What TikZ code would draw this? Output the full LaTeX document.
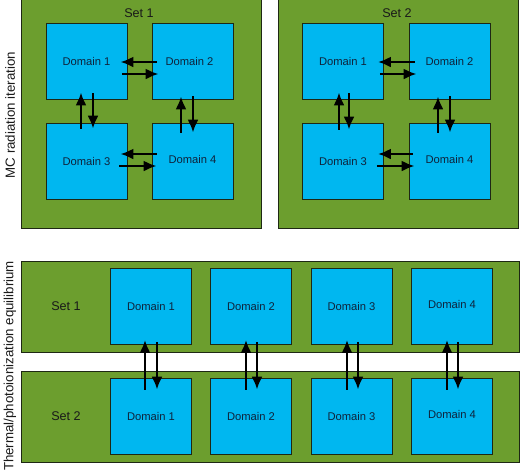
\documentclass[tikz,border=0pt]{standalone}
\usepackage{fontspec}
\setmainfont{Liberation Sans}
\usetikzlibrary{arrows.meta}
\definecolor{setgreen}{RGB}{108,158,46}
\definecolor{domblue}{RGB}{0,183,240}
\definecolor{edgedark}{RGB}{30,40,20}
\definecolor{domtext}{RGB}{15,35,60}
\begin{document}
\begin{tikzpicture}[x=1pt,y=-1pt,
  setbox/.style={draw=edgedark,line width=0.9pt,fill=setgreen},
  dom/.style={draw=edgedark,line width=0.9pt,fill=domblue,minimum width=81pt,minimum height=76pt,inner sep=0pt,text=domtext,font=\fontsize{11.2}{13}\selectfont},
  setlabel/.style={font=\fontsize{12.6}{14}\selectfont,text=black!90,inner sep=0pt},
  sidelabel/.style={font=\fontsize{13.3}{15}\selectfont,text=black!90,rotate=90,inner sep=0pt},
  arr/.style={line width=2.3pt,-{Latex[length=13pt,width=11pt]}}]
\useasboundingbox (0,0) rectangle (520,472);
% set boxes
\path[setbox] (21,-2) rectangle (261,228);
\path[setbox] (278,-2) rectangle (518,228);
\path[setbox] (21,261) rectangle (519,352);
\path[setbox] (21,371) rectangle (519,462);
% labels
\node[setlabel] (s1t) at (139,13) {Set 1};
\node[setlabel] (s2t) at (397,13) {Set 2};
\node[setlabel] (s1b) at (66,306) {Set 1};
\node[setlabel] (s2b) at (66,416) {Set 2};
\node[sidelabel] (mc) at (10,115) {MC radiation iteration};
\node[sidelabel] (th) at (10,366) {Thermal/photoionization equilibrium};
% top set 1
\node[dom] (a1) at (86.5,61) {Domain 1};
\node[dom] (a2) at (192.5,61) {\hspace*{-6pt}Domain 2};
\node[dom] (a3) at (86.5,161) {Domain 3};
\node[dom] (a4) at (192.5,161) {\raisebox{4pt}{Domain 4}};
% top set 2
\node[dom] (b1) at (343,61) {Domain 1};
\node[dom] (b2) at (449.5,61) {Domain 2};
\node[dom] (b3) at (343,161) {Domain 3};
\node[dom] (b4) at (449.5,161) {\raisebox{4pt}{Domain 4}};
% bottom rows
\node[dom] (c1) at (151,306.5) {Domain 1};
\node[dom] (c2) at (251,306.5) {Domain 2};
\node[dom] (c3) at (351.5,306.5) {Domain 3};
\node[dom] (c4) at (452,306.5) {\raisebox{4pt}{Domain 4}};
\node[dom] (d1) at (151,416) {Domain 1};
\node[dom] (d2) at (251,416) {Domain 2};
\node[dom] (d3) at (351.5,416) {Domain 3};
\node[dom] (d4) at (452,416) {\raisebox{3pt}{Domain 4}};
% arrows set 1
\draw[arr] ([xshift=5pt,yshift=-1pt]a2.west) -- ([xshift=-7pt,yshift=-1pt]a1.east);
\draw[arr] ([xshift=-5pt,yshift=-13pt]a1.east) -- ([xshift=7pt,yshift=-13pt]a2.west);
\draw[arr] ([xshift=5pt,yshift=7pt]a4.west) -- ([xshift=-7pt,yshift=7pt]a3.east);
\draw[arr] ([xshift=-8pt,yshift=-5pt]a3.east) -- ([xshift=5pt,yshift=-5pt]a4.west);
\draw[arr] ([xshift=-5.5pt,yshift=-6pt]a3.north) -- ([xshift=-5.5pt,yshift=7pt]a1.south);
\draw[arr] ([xshift=6.5pt,yshift=6pt]a1.south) -- ([xshift=6.5pt,yshift=-6pt]a3.north);
\draw[arr] ([xshift=-11.5pt,yshift=-10pt]a4.north) -- ([xshift=-11.5pt,yshift=3pt]a2.south);
\draw[arr] ([xshift=0.5pt,yshift=3pt]a2.south) -- ([xshift=0.5pt,yshift=-10pt]a4.north);
% arrows set 2
\draw[arr] ([xshift=6pt,yshift=-1pt]b2.west) -- ([xshift=-6pt,yshift=-1pt]b1.east);
\draw[arr] ([xshift=-4pt,yshift=-13pt]b1.east) -- ([xshift=8pt,yshift=-13pt]b2.west);
\draw[arr] ([xshift=4pt,yshift=7pt]b4.west) -- ([xshift=-6pt,yshift=7pt]b3.east);
\draw[arr] ([xshift=-7pt,yshift=-5pt]b3.east) -- ([xshift=6pt,yshift=-5pt]b4.west);
\draw[arr] ([xshift=-4pt,yshift=-7pt]b3.north) -- ([xshift=-4pt,yshift=7pt]b1.south);
\draw[arr] ([xshift=6pt,yshift=6pt]b1.south) -- ([xshift=6pt,yshift=-7pt]b3.north);
\draw[arr] ([xshift=-11.5pt,yshift=-10pt]b4.north) -- ([xshift=-11.5pt,yshift=3pt]b2.south);
\draw[arr] ([xshift=0.5pt,yshift=3pt]b2.south) -- ([xshift=0.5pt,yshift=-10pt]b4.north);
% arrows bottom
\draw[arr] ([xshift=-6pt,yshift=-12pt]d1.north) -- ([xshift=-6pt,yshift=5pt]c1.south);
\draw[arr] ([xshift=6pt,yshift=3pt]c1.south) -- ([xshift=6pt,yshift=-12pt]d1.north);
\draw[arr] ([xshift=-5pt,yshift=-12pt]d2.north) -- ([xshift=-5pt,yshift=5pt]c2.south);
\draw[arr] ([xshift=6pt,yshift=3pt]c2.south) -- ([xshift=6pt,yshift=-12pt]d2.north);
\draw[arr] ([xshift=-4.5pt,yshift=-12pt]d3.north) -- ([xshift=-4.5pt,yshift=5pt]c3.south);
\draw[arr] ([xshift=6.5pt,yshift=3pt]c3.south) -- ([xshift=6.5pt,yshift=-12pt]d3.north);
\draw[arr] ([xshift=-5pt,yshift=-12pt]d4.north) -- ([xshift=-5pt,yshift=5pt]c4.south);
\draw[arr] ([xshift=6pt,yshift=3pt]c4.south) -- ([xshift=6pt,yshift=-12pt]d4.north);
\end{tikzpicture}
\end{document}
